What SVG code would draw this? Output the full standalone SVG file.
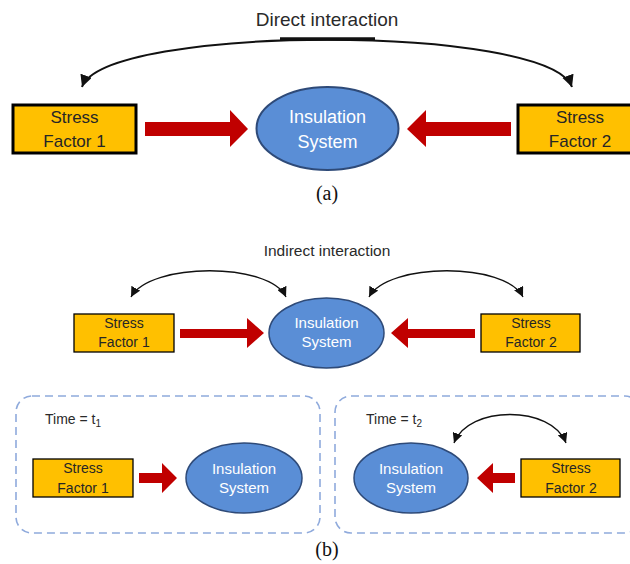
<svg xmlns="http://www.w3.org/2000/svg" width="630" height="564" viewBox="0 0 630 564">
  <style>
    .box { fill: #FFC000; stroke: #000; }
    .box-a { stroke-width: 3; }
    .box-b { stroke-width: 1.3; }
    .sys { fill: #5A8ED6; stroke: #2E4A78; }
    .boxtxt { font-family: "Liberation Sans", Arial, sans-serif; fill: #262626; text-anchor: middle; }
    .systxt { font-family: "Liberation Sans", Arial, sans-serif; fill: #FFFFFF; text-anchor: middle; }
    .label { font-family: "Liberation Sans", Arial, sans-serif; fill: #2A2A2A; }
    .cap { font-family: "Liberation Serif", "Times New Roman", serif; fill: #111; text-anchor: middle; font-size: 20px; }
    .push { fill: #C00000; }
    .inter { fill: none; stroke: #111; }
    .frame { fill: none; stroke: #8FAADC; stroke-width: 1.6; stroke-dasharray: 8 5; }
  </style>
  <defs>
    <marker id="headL" markerUnits="userSpaceOnUse" markerWidth="13" markerHeight="12" refX="12" refY="6" orient="auto-start-reverse">
      <path d="M0,0 L12,6 L0,12 z" fill="#111"/>
    </marker>
    <marker id="headS" markerUnits="userSpaceOnUse" markerWidth="11" markerHeight="10" refX="10" refY="5" orient="auto-start-reverse">
      <path d="M0,0 L10,5 L0,10 z" fill="#111"/>
    </marker>
  </defs>

  <rect width="630" height="564" fill="#FFFFFF"/>

  <!-- (a) direct interaction -->
  <text class="label" x="327" y="26" font-size="19" text-anchor="middle">Direct interaction</text>

  <g id="a-stress1">
    <rect class="box box-a" x="13" y="105" width="123" height="48"/>
    <text class="boxtxt" x="74.5" y="123" font-size="17">Stress</text>
    <text class="boxtxt" x="74.5" y="147" font-size="17">Factor 1</text>
  </g>
  <g id="a-insulation">
    <ellipse class="sys" cx="327.5" cy="128.5" rx="71" ry="41.5" stroke-width="2"/>
    <text class="systxt" x="327.5" y="123" font-size="18">Insulation</text>
    <text class="systxt" x="327.5" y="148" font-size="18">System</text>
  </g>
  <g id="a-stress2">
    <rect class="box box-a" x="518" y="105" width="124" height="48"/>
    <text class="boxtxt" x="580" y="123" font-size="17">Stress</text>
    <text class="boxtxt" x="580" y="147" font-size="17">Factor 2</text>
  </g>

  <!-- (b) indirect interaction -->
  <text class="label" x="327" y="256" font-size="15.5" text-anchor="middle">Indirect interaction</text>

  <g id="b-stress1">
    <rect class="box box-b" x="74" y="314" width="100" height="38"/>
    <text class="boxtxt" x="124" y="328" font-size="14">Stress</text>
    <text class="boxtxt" x="124" y="347" font-size="14">Factor 1</text>
  </g>
  <g id="b-insulation">
    <ellipse class="sys" cx="326.5" cy="333" rx="57.5" ry="35" stroke-width="1.5"/>
    <text class="systxt" x="326.5" y="328" font-size="15">Insulation</text>
    <text class="systxt" x="326.5" y="347" font-size="15">System</text>
  </g>
  <g id="b-stress2">
    <rect class="box box-b" x="481" y="314" width="99" height="38"/>
    <text class="boxtxt" x="531" y="328" font-size="14">Stress</text>
    <text class="boxtxt" x="531" y="347" font-size="14">Factor 2</text>
  </g>

  <!-- time steps -->
  <g id="panel-t1">
    <rect class="frame" x="16" y="396" width="304" height="137" rx="16"/>
    <text class="label" x="45" y="424" font-size="14">Time = t<tspan font-size="10" dy="3">1</tspan></text>
  </g>
  <g id="panel-t2">
    <rect class="frame" x="335" y="396" width="306" height="137" rx="16"/>
    <text class="label" x="366" y="424" font-size="14">Time = t<tspan font-size="10" dy="3">2</tspan></text>
  </g>

  <g id="t1-stress1">
    <rect class="box box-b" x="33" y="459" width="100" height="38"/>
    <text class="boxtxt" x="83" y="473" font-size="14">Stress</text>
    <text class="boxtxt" x="83" y="493" font-size="14">Factor 1</text>
  </g>
  <g id="t1-insulation">
    <ellipse class="sys" cx="244" cy="478" rx="58" ry="35" stroke-width="1.5"/>
    <text class="systxt" x="244" y="474" font-size="15">Insulation</text>
    <text class="systxt" x="244" y="493" font-size="15">System</text>
  </g>
  <g id="t2-insulation">
    <ellipse class="sys" cx="411" cy="478" rx="57" ry="35" stroke-width="1.5"/>
    <text class="systxt" x="411" y="474" font-size="15">Insulation</text>
    <text class="systxt" x="411" y="493" font-size="15">System</text>
  </g>
  <g id="t2-stress2">
    <rect class="box box-b" x="521" y="459" width="99" height="38"/>
    <text class="boxtxt" x="571" y="473" font-size="14">Stress</text>
    <text class="boxtxt" x="571" y="493" font-size="14">Factor 2</text>
  </g>

  <!-- connectors -->
  <g id="connectors">
    <!-- stress pushes -->
    <polygon class="push" points="145,122 230,122 230,110 248,129 230,147 230,136 145,136"/>
    <polygon class="push" points="511,122 426,122 426,110 407,129 426,147 426,136 511,136"/>
    <polygon class="push" points="180,329 247,329 247,318 264,333 247,348 247,338 180,338"/>
    <polygon class="push" points="475,329 408,329 408,318 391,333 408,348 408,338 475,338"/>
    <polygon class="push" points="139,473 162,473 162,463 177,478 162,493 162,483 139,483"/>
    <polygon class="push" points="515,473 493,473 493,463 477,478 493,493 493,483 515,483"/>

    <!-- interaction arcs -->
    <path class="inter" d="M82,87 C105,24 549,24 572,87" stroke-width="2" marker-start="url(#headL)" marker-end="url(#headL)"/>
    <line x1="280" y1="39" x2="375" y2="39" stroke="#111" stroke-width="3.5"/>
    <path class="inter" d="M131,297 C150,262 270,262 286,297" stroke-width="1.3" marker-start="url(#headS)" marker-end="url(#headS)"/>
    <path class="inter" d="M369,297 C388,262 506,262 523,297" stroke-width="1.3" marker-start="url(#headS)" marker-end="url(#headS)"/>
    <path class="inter" d="M454,443 C468,405 552,405 566,443" stroke-width="1.3" marker-start="url(#headS)" marker-end="url(#headS)"/>
  </g>

  <text class="cap" x="327" y="200">(a)</text>
  <text class="cap" x="327" y="556">(b)</text>
</svg>
